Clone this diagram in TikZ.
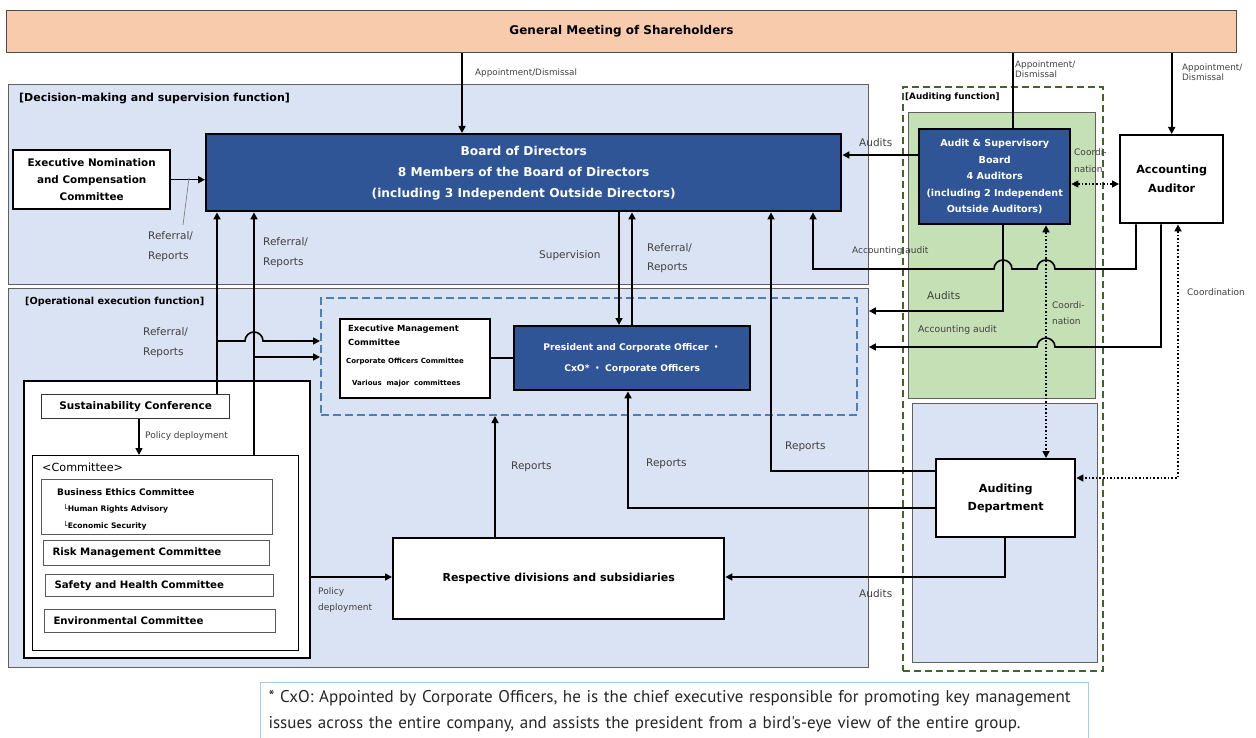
\documentclass[tikz,border=0pt]{standalone}
\usepackage{fontspec}
\setmainfont{DejaVu Sans}
\newfontfamily\notefont{PT Sans}
\newfontfamily\jpfont{Noto Sans CJK JP}
\usetikzlibrary{arrows.meta}

\definecolor{peach}{HTML}{F8CBAD}
\definecolor{paleblue}{HTML}{DAE3F3}
\definecolor{navy}{HTML}{2F5597}
\definecolor{palegreen}{HTML}{C5E0B4}
\definecolor{darkgreen}{HTML}{46622A}
\definecolor{dashblue}{HTML}{4C7DB5}
\definecolor{noteblue}{HTML}{A9C9E8}
\definecolor{lblgray}{HTML}{404040}

\newcommand{\fs}[2]{\fontsize{#1}{#2}\selectfont}
\newcommand{\nakaguro}{{\jpfont ・}}

\tikzset{
  region/.style={draw=gray!75!black, line width=0.9pt, fill=paleblue, anchor=north west, inner sep=0pt},
  navybox/.style={draw=black, line width=2.4pt, fill=navy, text=white, font=\bfseries, align=center, anchor=north west, inner sep=0pt},
  whitebox/.style={draw=black, line width=2.4pt, fill=white, font=\bfseries, align=center, anchor=north west, inner sep=0pt},
  listbox/.style={draw=gray!70!black, line width=1pt, fill=white, anchor=north west, inner xsep=9pt, inner ysep=0pt, align=left},
  lbl/.style={text=lblgray, align=left, anchor=west, inner sep=0pt},
  conn/.style={line width=1.6pt},
  arr/.style={conn, -{Triangle[length=7pt,width=7pt]}},
  dotarr/.style={conn, dotted, {Triangle[length=7pt,width=7pt]}-{Triangle[length=7pt,width=7pt]}},
}

\begin{document}
\begin{tikzpicture}[x=1pt, y=-1pt]
\useasboundingbox (0,0) rectangle (1256,738);

% shareholders
\node[draw=gray!60!black, line width=1pt, fill=peach, anchor=north west, minimum width=1230pt, minimum height=42pt, font=\fs{12}{14}\bfseries] (gms) at (6,10) {General Meeting of Shareholders};

% function areas
\node[region, minimum width=860pt, minimum height=200pt] (dec) at (8,84) {};
\node[region, minimum width=860pt, minimum height=379pt] (ops) at (8,288) {};
\node[draw=darkgreen, line width=2.2pt, dash pattern=on 7pt off 4pt, anchor=north west, minimum width=200pt, minimum height=584pt] (audf) at (902,86) {};
\node[region, fill=palegreen, minimum width=187pt, minimum height=286pt] (grn) at (908,112) {};
\node[region, minimum width=185pt, minimum height=259pt] (blu) at (912,403) {};
\node[draw=dashblue, line width=2pt, dash pattern=on 8pt off 4pt, anchor=north west, minimum width=536pt, minimum height=117pt] (exd) at (320,297) {};

\node[anchor=west, inner sep=0pt, font=\fs{11}{12}\bfseries] (declbl) at (19,99) {[Decision-making and supervision function]};
\node[anchor=west, inner sep=0pt, font=\fs{9.7}{12}\bfseries] (opslbl) at (25,302) {[Operational execution function]};
\node[anchor=west, inner sep=0pt, font=\fs{8.8}{10}\bfseries] (audlbl) at (905,97) {[Auditing function]};

% main boxes
\node[navybox, minimum width=635pt, minimum height=77pt, font=\fs{12.2}{21}\bfseries] (bod) at (205,133) {Board of Directors\\8 Members of the Board of Directors\\(including 3 Independent Outside Directors)};
\node[whitebox, minimum width=157pt, minimum height=59pt, font=\fs{10.4}{17}\bfseries] (enc) at (12,149) {Executive Nomination\\and Compensation\\Committee};
\node[navybox, minimum width=151pt, minimum height=95pt, font=\fs{9.6}{16.5}\bfseries] (asb) at (918,128) {Audit \& Supervisory\\Board\\4 Auditors\\(including 2 Independent\\Outside Auditors)};
\node[whitebox, minimum width=103pt, minimum height=88pt, font=\fs{11.2}{19}\bfseries] (aa) at (1119,134) {Accounting\\Auditor};
\node[whitebox, line width=2pt, minimum width=150pt, minimum height=79pt] (emc) at (339,318) {};
\node[anchor=west, inner sep=0pt, align=left, font=\fs{8.4}{14}\bfseries] (emct) at (348,335) {Executive Management\\Committee};
\node[anchor=west, inner sep=0pt, font=\fs{7}{9}\bfseries] (coct) at (346,362) {Corporate Officers Committee};
\node[anchor=west, inner sep=0pt, font=\fs{7}{9}\bfseries] (vmct) at (352,384) {Various\ \ major\ \ committees};
\node[navybox, minimum width=236pt, minimum height=64pt, font=\fs{9.2}{21}\bfseries] (pres) at (513,325) {President and Corporate Officer\ \nakaguro\\CxO*\ \nakaguro\ Corporate Officers};
\node[whitebox, minimum width=139pt, minimum height=78pt, font=\fs{11.2}{18}\bfseries] (ad) at (935,458) {Auditing\\Department};
\node[whitebox, minimum width=331pt, minimum height=81pt, font=\fs{11}{12}\bfseries] (rds) at (392,537) {Respective divisions and subsidiaries};

% sustainability block
\node[whitebox, minimum width=286pt, minimum height=277pt] (scbox) at (23,380) {};
\node[listbox, line width=1.2pt, draw=black!80, minimum width=188pt, minimum height=24pt, align=center, font=\fs{10.5}{12}\bfseries] (sc) at (41,394) {Sustainability Conference};
\node[draw=black, line width=1.4pt, fill=white, anchor=north west, minimum width=266pt, minimum height=195pt] (cmt) at (32,455) {};
\node[anchor=west, inner sep=0pt, font=\fs{11.2}{14}] (cmtlbl) at (42,467) {<Committee>};
\node[listbox, minimum width=231pt, minimum height=55pt] (bec) at (41,479) {};
\node[anchor=west, inner sep=0pt, font=\fs{9}{11}\bfseries] (bect) at (57,492) {Business\ Ethics Committee};
\node[anchor=west, inner sep=0pt, font=\fs{7.6}{10}\bfseries] (hrat) at (63,509) {└Human\ Rights Advisory};
\node[anchor=west, inner sep=0pt, font=\fs{7.6}{10}\bfseries] (ecst) at (63,526) {└Economic\ Security};
\node[listbox, text width=208pt, minimum height=25pt, font=\fs{10.2}{13}\bfseries] (rmc) at (43,540) {Risk Management Committee};
\node[listbox, text width=210pt, minimum height=22pt, font=\fs{10.2}{12}\bfseries] (shc) at (45,574) {Safety and Health Committee};
\node[listbox, text width=213pt, minimum height=23pt, font=\fs{10.2}{13}\bfseries] (envc) at (44,609) {Environmental Committee};

% footnote
\node[draw=noteblue, line width=1pt, anchor=north west, inner xsep=8pt, inner ysep=8pt, text width=812pt, align=left, text=black!85, font=\notefont\fs{17}{26}] (note) at (260,682) {* CxO: Appointed by Corporate Officers, he is the chief executive responsible for promoting key management\\issues across the entire company, and assists the president from a bird's-eye view of the entire group.};

% appointments
\draw[arr] (462,0 |- gms.south) -- (462,0 |- bod.north);
\draw[conn] (1013,0 |- gms.south) -- (1013,0 |- asb.north);
\draw[arr] (aa.north |- gms.south) -- (aa.north);

% decision making
\draw[arr] (enc.east) -- (enc.east -| bod.west);
\draw[gray, line width=0.7pt] (189,178) -- (183,225);
\draw[arr] (217,0 |- sc.north) -- (217,0 |- bod.south);
\draw[arr] (254,0 |- cmt.north) -- (254,0 |- bod.south);
\draw[arr] (619,0 |- bod.south) -- (619,0 |- pres.north);
\draw[arr] (632,0 |- pres.north) -- (632,0 |- bod.south);

% operational execution
\draw[arr] (217,341) -- (245,341) arc (180:360:9) -- (exd.west |- 0,341);
\draw[arr] (254,357) -- (exd.west |- 0,357);
\draw[arr] (139,0 |- sc.south) -- (139,0 |- cmt.north);
\draw[arr] (scbox.east |- 0,577) -- (rds.west |- 0,577);
\draw[arr] (495,0 |- rds.north) -- (495,0 |- exd.south);
\draw[conn] (emc.east |- 0,358) -- (pres.west |- 0,358);

% auditing
\draw[arr] (asb.west |- 0,155) -- (bod.east |- 0,155);
\draw[dotarr] (asb.east |- 0,184) -- (aa.west |- 0,184);
\draw[arr] (1136,0 |- aa.south) -- (1136,269) -- (1055,269) arc (0:-180:9) -- (1012,269) arc (0:-180:9) -- (813,269) -- (813,0 |- bod.south);
\draw[arr] (1003,0 |- asb.south) -- (1003,311) -- (ops.east |- 0,311);
\draw[arr] (1161,0 |- aa.south) -- (1161,347) -- (1055,347) arc (0:-180:9) -- (ops.east |- 0,347);
\draw[dotarr] (1046,0 |- asb.south) -- (1046,0 |- ad.north);
\draw[dotarr] (1178,0 |- aa.south) -- (1178,478) -- (ad.east |- 0,478);
\draw[arr] (ad.west |- 0,471) -- (771,471) -- (771,0 |- bod.south);
\draw[arr] (ad.west |- 0,508) -- (628,508) -- (628,0 |- pres.south);
\draw[arr] (1005,0 |- ad.south) -- (1005,577) -- (rds.east |- 0,577);

% labels
\node[lbl, font=\fs{8.8}{10}] (l1) at (475,73) {Appointment/Dismissal};
\node[lbl, font=\fs{8.8}{10.5}] (l2) at (1015,69) {Appointment/\\Dismissal};
\node[lbl, font=\fs{8.8}{10.5}] (l3) at (1182,72) {Appointment/\\Dismissal};
\node[lbl, font=\fs{10.5}{12}] (l4) at (859,143) {Audits};
\node[lbl, font=\fs{9}{17}] (l5) at (1074,161) {Coordi-\\nation};
\node[lbl, font=\fs{10.5}{20}] (l6) at (148,247) {Referral/\\Reports};
\node[lbl, font=\fs{10.5}{20}] (l7) at (263,253) {Referral/\\Reports};
\node[lbl, font=\fs{10.5}{12}] (l8) at (539,256) {Supervision};
\node[lbl, font=\fs{10.5}{19}] (l9) at (647,258) {Referral/\\Reports};
\node[lbl, font=\fs{9}{11}] (l10) at (852,251) {Accounting audit};
\node[lbl, font=\fs{10.5}{12}] (l11) at (927,296) {Audits};
\node[lbl, font=\fs{9}{16}] (l12) at (1052,313) {Coordi-\\nation};
\node[lbl, font=\fs{9.3}{11}] (l13) at (918,330) {Accounting audit};
\node[lbl, font=\fs{9}{11}] (l14) at (1187,292) {Coordination};
\node[lbl, font=\fs{10.5}{20}] (l15) at (143,343) {Referral/\\Reports};
\node[lbl, font=\fs{9}{11}] (l16) at (145,436) {Policy deployment};
\node[lbl, font=\fs{10.5}{12}] (l17) at (511,467) {Reports};
\node[lbl, font=\fs{10.5}{12}] (l18) at (646,464) {Reports};
\node[lbl, font=\fs{10.5}{12}] (l19) at (785,447) {Reports};
\node[lbl, font=\fs{9}{16}] (l20) at (318,600) {Policy\\deployment};
\node[lbl, font=\fs{10.5}{12}] (l21) at (859,594) {Audits};
\end{tikzpicture}
\end{document}
